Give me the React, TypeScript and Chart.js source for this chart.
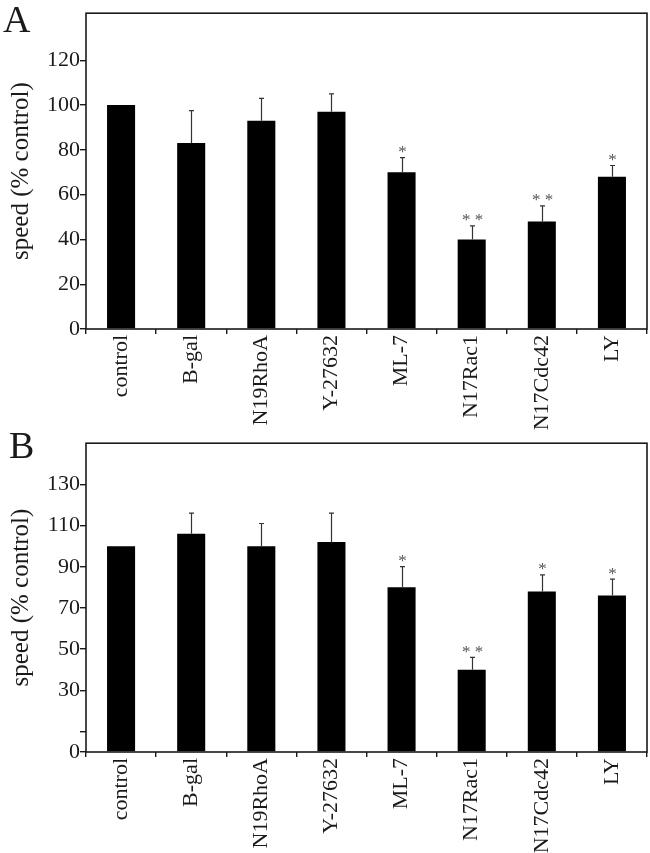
import React, { useEffect, useRef } from 'react';
import { Chart, registerables } from 'chart.js';

Chart.register(...registerables);

const categories = ['control', 'B-gal', 'N19RhoA', 'Y-27632', 'ML-7', 'N17Rac1', 'N17Cdc42', 'LY'];

const speedA = [100, 83, 93, 97, 70, 40, 48, 68];
const errA = [0, 14.5, 10, 8, 6.5, 6, 7, 5];
const sigA = ['', '', '', '', '*', '* *', '* *', '*'];
const ticksA = [0, 20, 40, 60, 80, 100, 120];
const labelsA = [0, 20, 40, 60, 80, 100, 120];
const maxA = 141;

const speedB = [100, 106, 100, 102, 80, 40, 78, 76];
const errB = [0, 10, 11, 14, 10, 6, 8, 8];
const sigB = ['', '', '', '', '*', '* *', '*', '*'];
const ticksB = [0, 10, 30, 50, 70, 90, 110, 130];
const labelsB = [0, 30, 50, 70, 90, 110, 130];
const maxB = 150;

const FONT = '"Liberation Serif", "Times New Roman", serif';
const INK = '#1a1a1a';

type PanelCfg = {
  values: number[];
  errs: number[];
  sigs: string[];
  ticks: number[];
  labels: number[];
  max: number;
  letter: string;
  lx: number;
  ly: number;
  padTop: number;
  height: number;
};

function makePlugin(cfg: PanelCfg) {
  return {
    id: 'annotate' + cfg.letter,
    afterDatasetsDraw(chart: any) {
      const { ctx, chartArea: a, scales } = chart;
      const y = scales.y;
      const meta = chart.getDatasetMeta(0);
      ctx.save();
      ctx.strokeStyle = INK;
      ctx.lineWidth = 1.6;
      ctx.strokeRect(a.left, a.top, a.right - a.left, a.bottom - a.top);
      cfg.values.forEach((v, i) => {
        const bar = meta.data[i];
        if (!bar) return;
        const px = Math.round(bar.x) + 0.5;
        const e = cfg.errs[i];
        const yBar = y.getPixelForValue(v);
        const yTop = y.getPixelForValue(v + e);
        if (e > 0) {
          ctx.strokeStyle = '#333';
          ctx.lineWidth = 1.2;
          ctx.beginPath();
          ctx.moveTo(px, yBar);
          ctx.lineTo(px, yTop);
          ctx.moveTo(px - 2.5, yTop);
          ctx.lineTo(px + 2.5, yTop);
          ctx.stroke();
        }
        if (cfg.sigs[i]) {
          ctx.fillStyle = '#555';
          ctx.font = `17px ${FONT}`;
          ctx.textAlign = 'center';
          ctx.textBaseline = 'middle';
          ctx.fillText(cfg.sigs[i], px, yTop - 5);
        }
      });
      ctx.fillStyle = INK;
      ctx.font = `38px ${FONT}`;
      ctx.textAlign = 'left';
      ctx.textBaseline = 'alphabetic';
      ctx.fillText(cfg.letter, cfg.lx, cfg.ly);
      ctx.restore();
    },
  };
}

function buildChart(canvas: HTMLCanvasElement, cfg: PanelCfg) {
  return new Chart(canvas, {
    type: 'bar',
    data: {
      labels: categories,
      datasets: [
        {
          data: cfg.values,
          backgroundColor: '#000',
          borderWidth: 0,
          barPercentage: 0.4,
          categoryPercentage: 1,
        },
      ],
    },
    options: {
      responsive: false,
      animation: false,
      devicePixelRatio: 1,
      layout: { padding: { left: 0, right: 3, top: cfg.padTop, bottom: 0 } },
      plugins: { legend: { display: false }, tooltip: { enabled: false } },
      scales: {
        x: {
          grid: {
            display: true,
            offset: true,
            drawOnChartArea: false,
            drawTicks: true,
            tickLength: 5,
            color: INK,
            tickColor: INK,
            lineWidth: 1.4,
          },
          border: { display: false },
          ticks: {
            autoSkip: false,
            minRotation: 90,
            maxRotation: 90,
            padding: 1,
            color: INK,
            font: { family: FONT, size: 22 },
          },
          afterFit: (s: any) => {
            s.height = 101;
          },
        },
        y: {
          min: 0,
          max: cfg.max,
          afterBuildTicks: (s: any) => {
            s.ticks = cfg.ticks.map((v) => ({ value: v }));
          },
          grid: {
            display: true,
            drawOnChartArea: false,
            drawTicks: true,
            tickLength: 6,
            color: INK,
            tickColor: INK,
            lineWidth: 1.4,
          },
          border: { display: false },
          ticks: {
            padding: 0,
            color: INK,
            font: { family: FONT, size: 22 },
            callback: (v: any) => (cfg.labels.includes(Number(v)) ? String(v) : ''),
          },
          title: {
            display: true,
            text: 'speed (% control)',
            color: INK,
            font: { family: FONT, size: 25 },
            padding: { top: 6, bottom: 0 },
          },
          afterFit: (s: any) => {
            s.width = 86;
          },
        },
      },
    },
    plugins: [makePlugin(cfg)],
  } as any);
}

const panelA: PanelCfg = {
  values: speedA,
  errs: errA,
  sigs: sigA,
  ticks: ticksA,
  labels: labelsA,
  max: maxA,
  letter: 'A',
  lx: 3,
  ly: 32,
  padTop: 5,
  height: 430,
};

const panelB: PanelCfg = {
  values: speedB,
  errs: errB,
  sigs: sigB,
  ticks: ticksB,
  labels: labelsB,
  max: maxB,
  letter: 'B',
  lx: 9,
  ly: 28,
  padTop: 6,
  height: 423,
};

function Panel({ cfg, top }: { cfg: PanelCfg; top: number }) {
  const ref = useRef<HTMLCanvasElement | null>(null);
  useEffect(() => {
    if (!ref.current) return;
    const chart = buildChart(ref.current, cfg);
    return () => chart.destroy();
  }, [cfg]);
  return (
    <canvas
      ref={ref}
      width={650}
      height={cfg.height}
      style={{ position: 'absolute', left: 0, top, width: 650, height: cfg.height, display: 'block' }}
    />
  );
}

export default function App() {
  return (
    <div style={{ position: 'absolute', left: 0, top: 0, width: 650, height: 853, background: '#fff' }}>
      <Panel cfg={panelA} top={0} />
      <Panel cfg={panelB} top={430} />
    </div>
  );
}
